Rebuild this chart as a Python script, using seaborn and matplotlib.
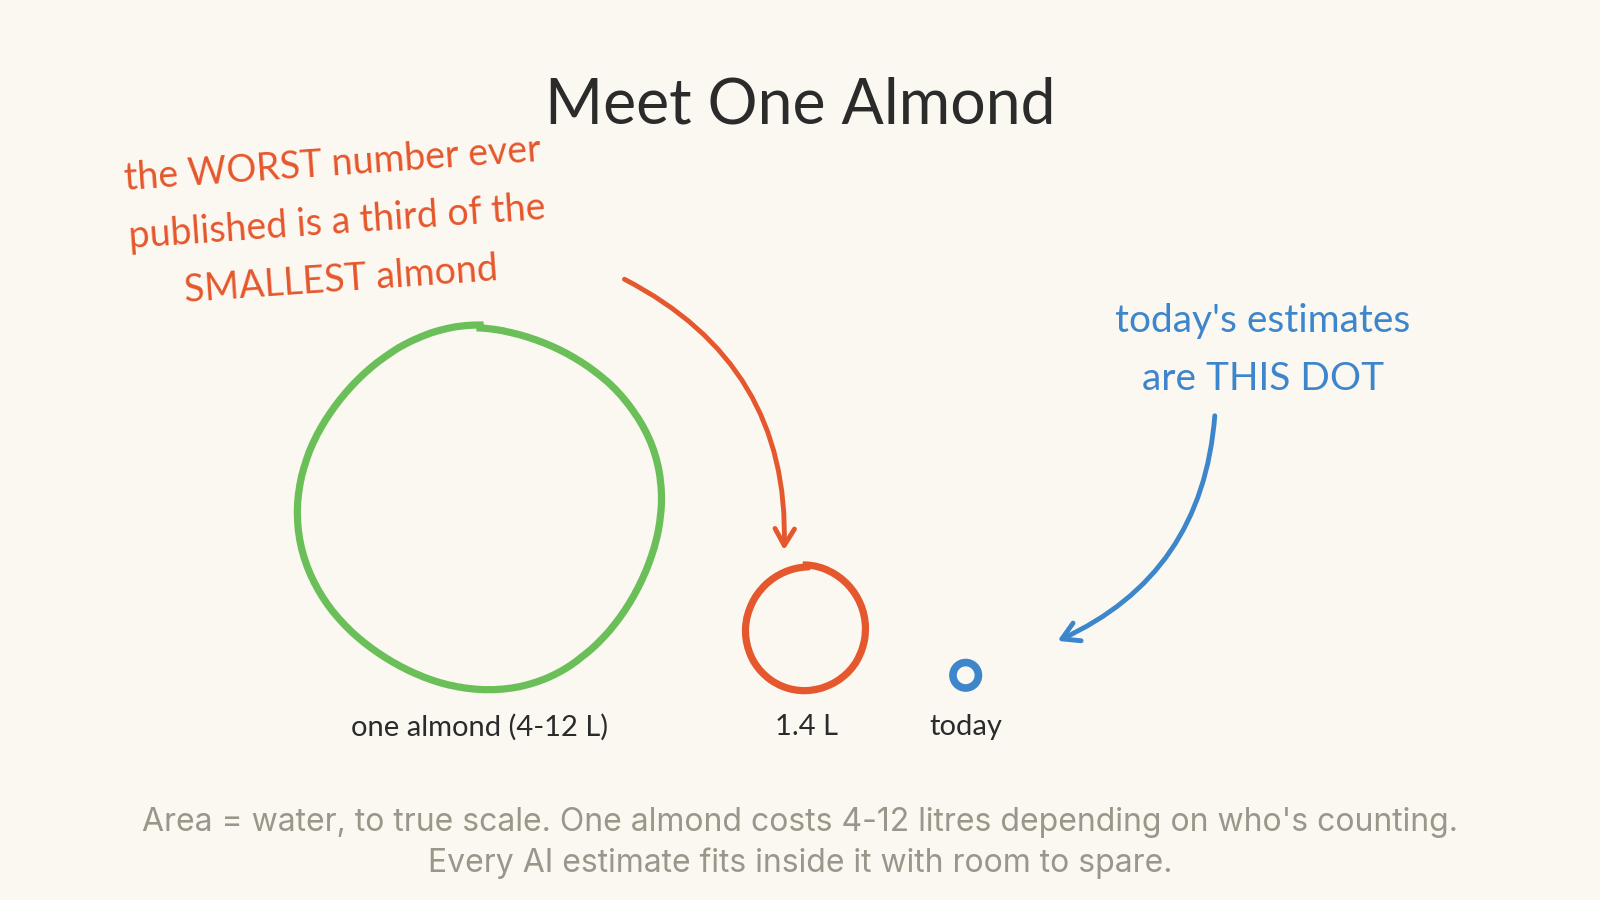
import numpy as np
import matplotlib
matplotlib.use("Agg")
import matplotlib.pyplot as plt
from matplotlib.patches import Circle, FancyArrowPatch
import seaborn as sns

# data: water per thing, litres (circle area = litres)
labels = ["one almond (4-12 L)", "1.4 L", "today"]
litres = [12.0, 1.4, 0.06]
colors = ["#6BBF59", "#E5572D", "#3D86CC"]

title = "Meet One Almond"
red_note = "the WORST number ever\npublished is a third of the\nSMALLEST almond"
blue_note = "today's estimates\nare THIS DOT"
footer = ("Area = water, to true scale. One almond costs 4-12 litres depending on who's counting.\n"
          "Every AI estimate fits inside it with room to spare.")

bg = "#FBF8F1"
ink = "#2B2B2B"
grey = "#9A968A"

sns.set_theme(style="white")
plt.rcParams['font.family'] = ['Lato', 'DejaVu Sans']

fig = plt.figure(figsize=(16, 9), dpi=100, facecolor=bg)
ax = fig.add_axes([0, 0, 1, 1])
ax.set_facecolor(bg)
ax.set_xlim(0, 1600)
ax.set_ylim(900, 0)
ax.axis("off")

# circles, area to scale, bottom aligned, fixed gap between them
k = 180 / np.sqrt(max(litres))
radii = [k * np.sqrt(v) for v in litres]
base = 688
gap = 85
x = 480
for i, r in enumerate(radii):
    if i > 0:
        x = x + radii[i - 1] + gap + r
    lw = 5.2 if r > 20 else 5.5
    c = Circle((x, base - r), r, fill=False, ec=colors[i], lw=lw)
    if r > 20:
        c.set_sketch_params(scale=3, length=300, randomness=2)
    ax.add_patch(c)
    ax.text(x, 727, labels[i], ha="center", va="center", fontsize=21, color=ink)

ax.text(800, 105, title, ha="center", va="center", fontsize=45, color=ink)

ax.text(337, 222, red_note, ha="center", va="center", fontsize=27, color=colors[1],
        rotation=4, linespacing=1.75, rotation_mode="anchor")
ax.text(1263, 350, blue_note, ha="center", va="center", fontsize=28, color=colors[2],
        linespacing=1.75)

a1 = FancyArrowPatch((622, 278), (784, 553), connectionstyle="arc3,rad=-0.32",
                     arrowstyle="->,head_length=12,head_width=7", color=colors[1], lw=3.5)
a2 = FancyArrowPatch((1215, 413), (1055, 642), connectionstyle="arc3,rad=-0.3",
                     arrowstyle="->,head_length=12,head_width=7", color=colors[2], lw=3.5)
ax.add_patch(a1)
ax.add_patch(a2)

ax.text(800, 843, footer, ha="center", va="center", fontsize=23, color=grey,
        linespacing=1.4, family=["Inter", "DejaVu Sans"])

fig.savefig("out.png", dpi=100, facecolor=bg)
